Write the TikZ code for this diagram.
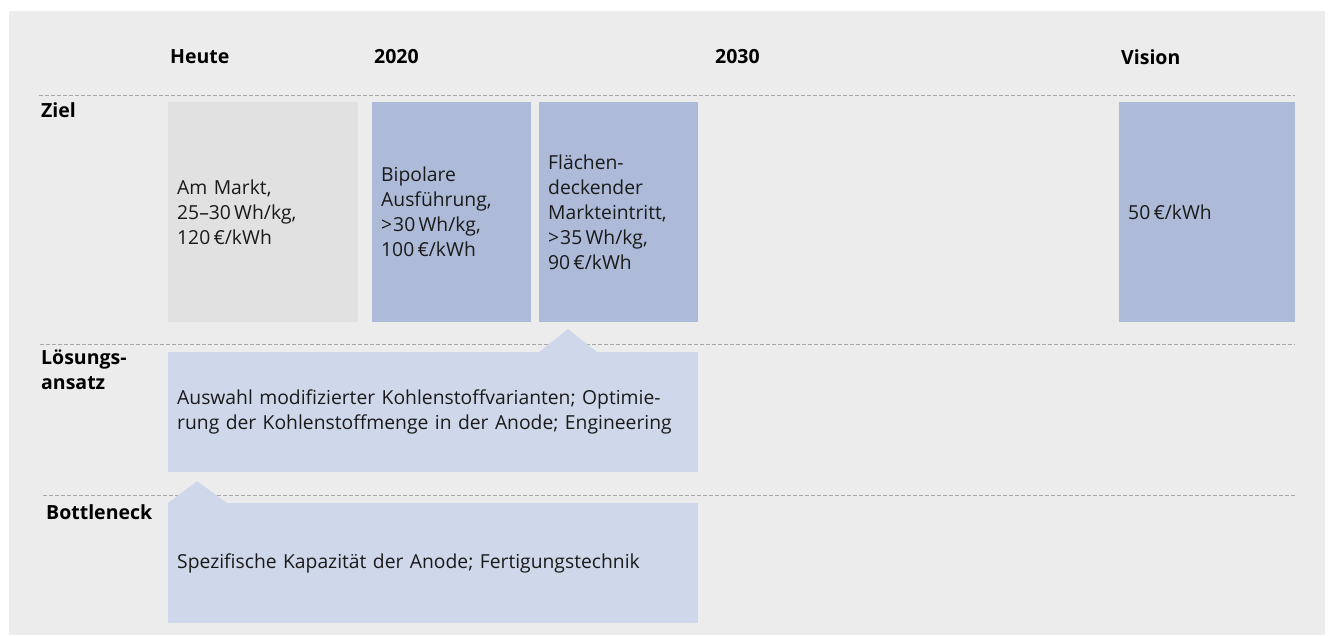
\documentclass[tikz,border=0pt]{standalone}
\usepackage{fontspec}
\setmainfont{Open Sans}
\usepackage{tikz}
\usetikzlibrary{positioning}
\definecolor{panel}{HTML}{ECECEC}
\definecolor{today}{HTML}{E1E1E1}
\definecolor{goal}{HTML}{ADBBD9}
\definecolor{idea}{HTML}{CFD8EA}
\definecolor{rule}{HTML}{A8A8A8}
\definecolor{ink}{HTML}{1A1A1A}

\begin{document}
\begin{tikzpicture}[x=1pt,y=-1pt,
  head/.style={font=\bfseries\fontsize{19.5}{25}\selectfont,anchor=west,align=left,inner sep=0pt},
  body/.style={font=\fontsize{19.3}{25}\selectfont,text=ink,align=left,anchor=north west,
    inner xsep=9pt,inner ysep=0pt},
  goalbox/.style={body,fill=goal,minimum height=220pt,text width=141pt},
  ideabox/.style={body,fill=idea,minimum height=120pt,text width=512pt},
  sep/.style={rule,line width=1pt,dash pattern=on 4pt off 2pt}]
  \useasboundingbox (0,0) rectangle (1329,635);
  \fill[white] (0,0) rectangle (1329,635);
  \fill[panel] (9,11) rectangle (1325,635);

  % column heads
  \node[head] (heute) at (170,57) {Heute};
  \node[head] (y2020) at (374,57) {2020};
  \node[head] (y2030) at (715,57) {2030};
  \node[head] (vision) at (1121,57) {Vision};

  % row separators
  \coordinate (s1a) at (39,95);  \coordinate (s1b) at (1295,95);
  \coordinate (s2a) at (40,344); \coordinate (s2b) at (1295,344);
  \coordinate (s3a) at (43,495); \coordinate (s3b) at (1295,495);
  \draw[sep] (s1a) -- (s1b);
  \draw[sep] (s2a) -- (s2b);
  \draw[sep] (s3a) -- (s3b);

  % row heads
  \node[head] (ziel) at (41,110) {Ziel};
  \node[head] (loesung) at (41,370) {Lösungs-\\ansatz};
  \node[head] (bottle) at (46,512) {Bottleneck};

  % targets
  \node[goalbox,fill=today,text width=172pt] (markt) at (168,102)
    {Am Markt,\\25–30\,Wh/kg,\\120\,€/kWh};
  \node[goalbox] (bipolar) at (372,102)
    {Bipolare\\Ausführung,\\>\kern1pt30\,Wh/kg,\\100\,€/kWh};
  \node[goalbox] (flaeche) at (539,102)
    {Flächen-\\deckender\\Markteintritt,\\>\kern1pt35\,Wh/kg,\\90\,€/kWh};
  \node[goalbox,text width=158pt] (ziel50) at (1119,102) {50\,€/kWh};

  % approach and bottleneck
  \node[ideabox] (ansatz) at (168,352)
    {Auswahl modifizierter Kohlenstoffvarianten; Optimie-\\rung der Kohlenstoffmenge in der Anode; Engineering};
  \fill[idea] (539,352) -- (568,329) -- (597,352) -- cycle;
  \node[ideabox] (kapazitaet) at (168,503)
    {Spezifische Kapazität der Anode; Fertigungstechnik};
  \fill[idea] (168,503) -- (197,481) -- (227,503) -- cycle;
\end{tikzpicture}
\end{document}
